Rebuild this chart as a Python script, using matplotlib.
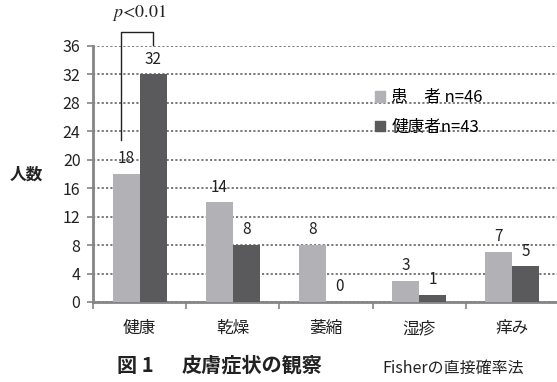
import matplotlib.pyplot as plt
import matplotlib.patches as mpatches
import numpy as np

plt.rcParams['font.family'] = ['Noto Sans CJK JP', 'DejaVu Sans']
plt.rcParams['mathtext.fontset'] = 'stix'

# data
categories = ['健康', '乾燥', '萎縮', '湿疹', '痒み']
patients = [18, 14, 8, 3, 7]
healthy = [32, 8, 0, 1, 5]
series_labels = ['患\u3000者 n=46', '健康者n=43']
yticks = [0, 4, 8, 12, 16, 20, 24, 28, 32, 36]

light = '#b2b2b6'
dark = '#5a5a5d'
grey = '#858585'
txt = '#222222'

fig = plt.figure(figsize=(5.57, 3.82), dpi=100)
ax = fig.add_axes([93 / 557, 1 - 302 / 382, 466 / 557, 256 / 382])

x = np.arange(len(categories))
w = 0.29
b1 = ax.bar(x - w / 2, patients, w, color=light, zorder=3)
b2 = ax.bar(x + w / 2, healthy, w, color=dark, zorder=3)

for bars, vals in [(b1, patients), (b2, healthy)]:
    for r, v in zip(bars, vals):
        ax.annotate(str(v), (r.get_x() + r.get_width() / 2, v),
                    xytext=(0, 5), textcoords='offset points',
                    ha='center', va='bottom', fontsize=11, color=txt)

ax.set_xlim(-0.5, len(categories) - 0.5)
ax.set_ylim(0, 36)
ax.set_yticks(yticks)
ax.tick_params(axis='y', labelsize=11.5, length=4, width=1.2, color=grey,
               pad=5, labelcolor=txt)
ax.set_xticks(np.arange(len(categories) + 1) - 0.5, minor=False)
ax.set_xticklabels([])
ax.tick_params(axis='x', length=5, width=1.2, color=grey, direction='out')
ax.set_xticks(x, minor=True)
ax.set_xticklabels(categories, minor=True, fontsize=12, color=txt)
ax.tick_params(axis='x', which='minor', length=0, pad=13)

ax.grid(axis='y', linestyle=(0, (1.2, 1.2)), color='#707070', linewidth=1.3, zorder=0)
for s in ['top', 'right']:
    ax.spines[s].set_visible(False)
ax.spines['left'].set_color(grey)
ax.spines['left'].set_linewidth(2)
ax.spines['bottom'].set_color(grey)
ax.spines['bottom'].set_linewidth(2)

# significance bracket
bx0, bx1 = -0.2, w / 2
ax.plot([bx0, bx0, bx1, bx1], [22.8, 38.0, 38.0, 36.1], color=txt,
        linewidth=1, clip_on=False)
ax.text((bx0 + bx1) / 2 + 0.02, 39.2, '$p$<0.01', family='STIXGeneral',
        fontsize=13, ha='center', va='bottom', color=txt)

# y label
fig.text(26 / 557, 1 - 175 / 382, '人数', fontsize=12, fontweight='bold',
         ha='center', va='center', color=txt)

# legend
handles = [mpatches.Patch(color=light), mpatches.Patch(color=dark)]
fig.legend(handles, series_labels, loc='upper left',
           bbox_to_anchor=(367 / 557, 1 - 81 / 382), frameon=False,
           fontsize=12, handlelength=0.6, handleheight=0.6, handletextpad=0.35,
           labelspacing=0.75, borderpad=0)

# captions
fig.text(117 / 557, 1 - 365 / 382, '図 1', fontsize=14.5,
         fontweight='bold', ha='left', va='center', color=txt)
fig.text(182 / 557, 1 - 365 / 382, '皮膚症状の観察', fontsize=14.5,
         fontweight='bold', ha='left', va='center', color=txt)
fig.text(382 / 557, 1 - 368 / 382, 'Fisherの直接確率法', fontsize=11.5,
         ha='left', va='center', color=txt)

fig.savefig('out.png', dpi=100)
